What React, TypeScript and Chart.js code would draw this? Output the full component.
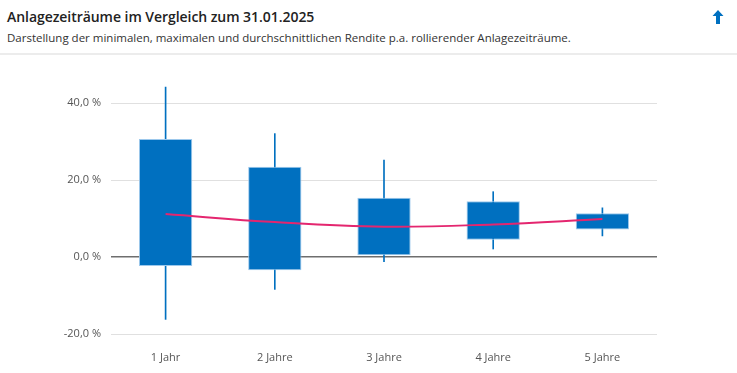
import React, { useEffect, useRef } from "react";
import { Chart, registerables } from "chart.js";

Chart.register(...registerables);

const categories = ["1 Jahr", "2 Jahre", "3 Jahre", "4 Jahre", "5 Jahre"];
const boxLow = [-2.3, -3.4, 0.5, 4.5, 7.2];
const boxHigh = [30.7, 23.5, 15.4, 14.5, 11.4];
const whiskerMin = [-16.2, -8.4, -1.2, 2.1, 5.5];
const whiskerMax = [44.2, 32.1, 25.2, 17.0, 12.8];
const averages = [11.2, 9.1, 7.9, 8.5, 9.9];
const yTicks = [-20, 0, 20, 40];

const BLUE = "#0070c0";
const PINK = "#e4266f";
const FONT = "'Open Sans', 'Noto Sans', sans-serif";

export default function App() {
  const canvasRef = useRef<HTMLCanvasElement | null>(null);

  useEffect(() => {
    document.body.style.margin = "0";
    const canvas = canvasRef.current;
    if (!canvas) return;
    const chart = new Chart(canvas, {
      type: "bar",
      data: {
        labels: categories,
        datasets: [
          {
            type: "line",
            label: "Durchschnitt",
            data: averages,
            borderColor: PINK,
            borderWidth: 2,
            pointRadius: 0,
            tension: 0.4,
            fill: false,
            order: 0,
          } as any,
          {
            type: "bar",
            label: "Box",
            data: boxLow.map((v, i) => [v, boxHigh[i]]),
            backgroundColor: BLUE,
            borderColor: "#9cc8ec",
            borderWidth: 1,
            borderSkipped: false,
            categoryPercentage: 1,
            barPercentage: 0.488,
            grouped: false,
            order: 1,
          } as any,
          {
            type: "bar",
            label: "Spanne",
            data: whiskerMin.map((v, i) => [v, whiskerMax[i]]),
            backgroundColor: BLUE,
            borderWidth: 0,
            barThickness: 1,
            grouped: false,
            order: 2,
          } as any,
        ],
      },
      options: {
        animation: false,
        responsive: false,
        maintainAspectRatio: false,
        layout: { padding: { top: 28, right: 80, bottom: 0, left: 0 } },
        plugins: {
          legend: { display: false },
          tooltip: { enabled: false },
          title: { display: false },
        },
        scales: {
          x: {
            grid: { display: false, drawTicks: false },
            border: { display: false },
            ticks: {
              color: "#555",
              font: { family: FONT, size: 11 },
              padding: 17,
            },
            afterFit: (scale: any) => {
              scale.height = 39;
            },
          },
          y: {
            min: -20,
            max: 45,
            afterBuildTicks: (scale: any) => {
              scale.ticks = yTicks.map((v) => ({ value: v }));
            },
            afterFit: (scale: any) => {
              scale.width = 111;
            },
            grid: {
              drawTicks: false,
              color: (ctx: any) => (ctx.tick && ctx.tick.value === 0 ? "#6e6e6e" : "#e0e0e0"),
              lineWidth: (ctx: any) => (ctx.tick && ctx.tick.value === 0 ? 1.5 : 1),
            },
            border: { display: false },
            ticks: {
              color: "#555",
              font: { family: FONT, size: 11 },
              padding: 10,
              callback: (v: any) => Number(v).toFixed(1).replace(".", ",") + " %",
            },
          },
        },
      },
    });
    return () => chart.destroy();
  }, []);

  return (
    <div
      style={{
        position: "absolute",
        left: 0,
        top: 0,
        width: 737,
        height: 373,
        background: "#fff",
        fontFamily: FONT,
        overflow: "hidden",
      }}
    >
      <div
        style={{
          position: "absolute",
          left: 7,
          top: 7,
          fontSize: 14,
          lineHeight: "20px",
          fontWeight: 600,
          letterSpacing: "-0.05px",
          color: "#222",
          whiteSpace: "nowrap",
        }}
      >
        Anlagezeiträume im Vergleich zum 31.01.2025
      </div>
      <div
        style={{
          position: "absolute",
          left: 7,
          top: 30,
          fontSize: 11.5,
          lineHeight: "16px",
          color: "#333",
          whiteSpace: "nowrap",
        }}
      >
        Darstellung der minimalen, maximalen und durchschnittlichen Rendite p.a. rollierender Anlagezeiträume.
      </div>
      <svg
        style={{ position: "absolute", left: 712, top: 10 }}
        width={12}
        height={14}
        viewBox="0 0 12 14"
      >
        <path d="M6 0 L11.5 6 L8 6 L8 14 L4 14 L4 6 L0.5 6 Z" fill={BLUE} />
      </svg>
      <div
        style={{
          position: "absolute",
          left: 0,
          top: 53,
          width: 737,
          height: 2,
          background: "#ececec",
        }}
      />
      <canvas
        ref={canvasRef}
        width={737}
        height={317}
        style={{ position: "absolute", left: 0, top: 56, width: 737, height: 317 }}
      />
    </div>
  );
}
